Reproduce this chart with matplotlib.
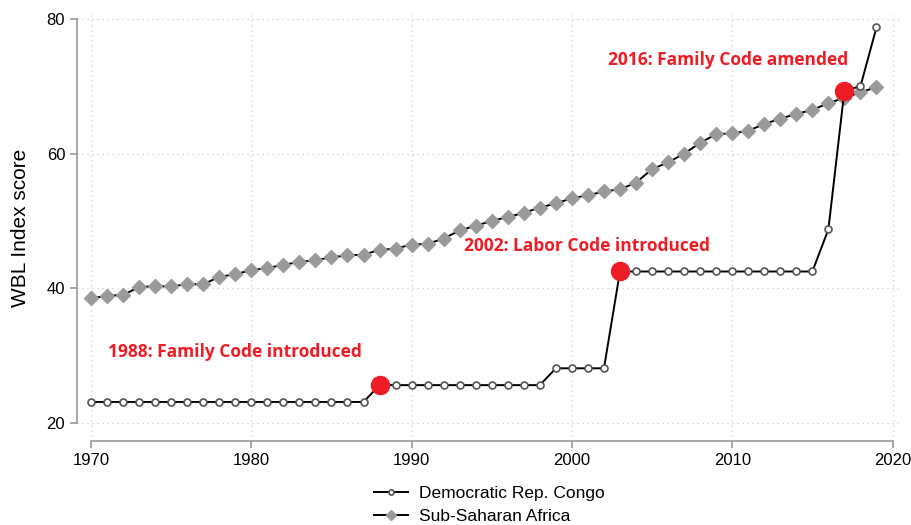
import matplotlib
matplotlib.use("Agg")
import matplotlib.pyplot as plt

# Data ############################################
years = list(range(1970, 2020))

drc = [23.125, 23.125, 23.125, 23.125, 23.125, 23.125, 23.125, 23.125, 23.125, 23.125,
       23.125, 23.125, 23.125, 23.125, 23.125, 23.125, 23.125, 23.125, 25.625, 25.625,
       25.625, 25.625, 25.625, 25.625, 25.625, 25.625, 25.625, 25.625, 25.625, 28.125,
       28.125, 28.125, 28.125, 42.5, 42.5, 42.5, 42.5, 42.5, 42.5, 42.5,
       42.5, 42.5, 42.5, 42.5, 42.5, 42.5, 48.75, 69.375, 70.0, 78.75]

ssa = [38.5, 38.9, 39.0, 40.2, 40.3, 40.3, 40.6, 40.6, 41.7, 42.1,
       42.7, 43.0, 43.5, 43.9, 44.2, 44.6, 44.9, 45.0, 45.7, 45.9,
       46.5, 46.6, 47.4, 48.6, 49.3, 50.0, 50.6, 51.2, 52.0, 52.6,
       53.4, 53.8, 54.4, 54.7, 55.7, 57.7, 58.7, 60.0, 61.6, 62.9,
       63.0, 63.4, 64.4, 65.2, 65.9, 66.5, 67.5, 68.3, 69.1, 69.9]

event_years = [1988, 2003, 2017]
event_labels = ["1988: Family Code introduced",
                "2002: Labor Code introduced",
                "2016: Family Code amended"]
###################################################

RED = "#ee1c25"
plt.rcParams['font.family'] = ['Liberation Sans', 'DejaVu Sans']

fig = plt.figure(figsize=(9.11, 5.25), dpi=100)
ax = fig.add_axes([77 / 911, 1 - 441 / 525, (900 - 77) / 911, (441 - 15) / 525])

# gridlines
for x in range(1970, 2021, 10):
    ax.axvline(x, color="#cccccc", lw=0.9, ls=(0, (1, 3)), zorder=0)
for y in range(20, 81, 20):
    ax.axhline(y, color="#cccccc", lw=0.9, ls=(0, (1, 3)), zorder=0)

ax.plot(years, drc, color="black", lw=1.4, marker="o", ms=5,
        mfc="white", mec="#555555", mew=1.2, label="Democratic Rep. Congo", zorder=3)
ax.plot(years, ssa, color="black", lw=1.4, marker="D", ms=7,
        mfc="#9a9a9a", mec="#9a9a9a", label="Sub-Saharan Africa", zorder=2)

# highlight reforms
ev_vals = [drc[years.index(y)] for y in event_years]
ax.plot(event_years, ev_vals, ls="none", marker="o", ms=13, color=RED, zorder=5)

label_pos = [(1971.05, 30.5), (1993.3, 46.3), (2002.25, 73.9)]
for (tx, ty), txt in zip(label_pos, event_labels):
    ax.text(tx, ty, txt, color=RED, fontsize=12.5, fontweight="bold",
            family=["Open Sans", "DejaVu Sans"], ha="left", va="center")

ax.set_xlim(1970 - 14 / 16.03, 1970 + (900 - 91) / 16.03)
ax.set_ylim(20 - 18 / 6.733, 80 + 4 / 6.733)
ax.set_xticks(range(1970, 2021, 10))
ax.set_yticks(range(20, 81, 20))

for side in ["top", "right"]:
    ax.spines[side].set_visible(False)
ax.spines["left"].set_bounds(20, 80)
ax.spines["bottom"].set_bounds(1970, 2020)
for side in ["left", "bottom"]:
    ax.spines[side].set_color("#999999")
    ax.spines[side].set_linewidth(1.2)
ax.tick_params(colors="#999999", labelcolor="black", labelsize=12, length=5, width=1.2)

ax.set_ylabel("WBL Index score", fontsize=15, labelpad=12)

fig.legend(loc="upper center", bbox_to_anchor=(0.537, 0.088), borderaxespad=0,
           frameon=False, fontsize=12.5, handlelength=2.0, labelspacing=0.45,
           handletextpad=0.6, markerscale=0.75)

fig.savefig("out.png", dpi=100)
